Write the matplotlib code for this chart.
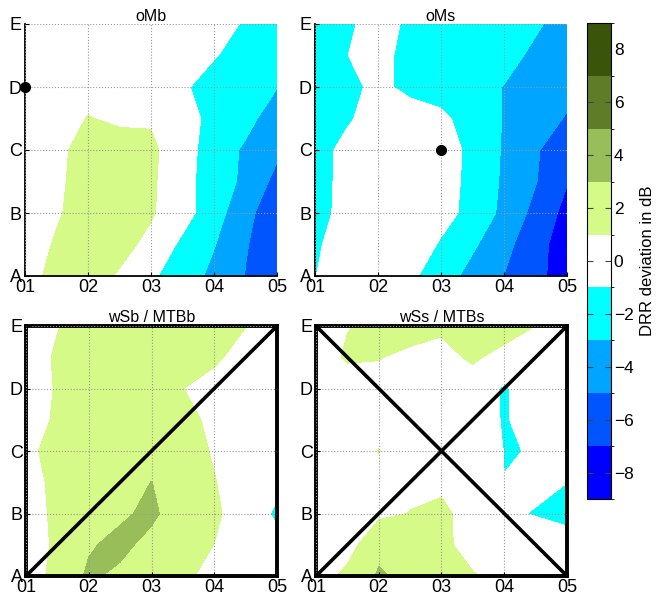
import numpy as np
import matplotlib
matplotlib.use('Agg')
import matplotlib.pyplot as plt
from matplotlib.colors import ListedColormap, BoundaryNorm

plt.rcParams['font.family'] = ['Liberation Sans', 'DejaVu Sans']

# sample grid (half steps between the labelled positions)
grid_pts = np.linspace(0, 4, 9)
x_labels = ['01', '02', '03', '04', '05']
y_labels = ['A', 'B', 'C', 'D', 'E']

levels = [-9, -7, -5, -3, -1, 1, 3, 5, 7, 9]
cbar_ticks = [-8, -6, -4, -2, 0, 2, 4, 6, 8]
band_colors = ['#0000ff', '#0055ff', '#00a5ff', '#00ffff', '#ffffff',
               '#d6fa87', '#98be5a', '#5f7d28', '#3a540a']

# DRR deviation in dB, rows A..E (bottom to top), columns 01..05 in half steps
oMb = [
    [0.0, 1.8, 1.8, 0.8, -0.7, -2.0, -3.5, -5.05, -6.0],
    [0.0, 1.2, 1.8, 1.6, 0.5, -1.4, -2.9, -4.9, -5.9],
    [-0.2, 0.8, 1.8, 1.9, 1.2, -0.2, -2.2, -4.3, -6.6],
    [-0.5, 0.6, 1.9, 2.0, 1.3, -0.3, -2.0, -3.4, -5.6],
    [-0.6, 0.5, 1.8, 1.9, 1.4, -0.2, -1.9, -3.3, -4.6],
    [-0.8, 0.0, 1.09, 0.65, 0.79, -0.3, -1.5, -2.4, -4.0],
    [-0.5, -0.2, 0.2, 0.3, 0.2, -0.8, -1.6, -2.3, -2.95],
    [-0.4, -0.2, 0.1, 0.2, 0.1, -0.3, -0.9, -1.6, -2.2],
    [-0.3, -0.2, 0.0, 0.1, 0.0, -0.2, -0.6, -1.1, -1.7],
]
oMs = [
    [-1.05, 0.2, 0.4, -0.6, -2.0, -3.7, -5.02, -6.5, -7.9],
    [-1.4, 0.3, 0.5, 0.2, -1.2, -2.7, -4.4, -6.3, -8.0],
    [-1.8, -0.3, 0.3, 0.4, -0.3, -1.6, -3.5, -5.6, -7.6],
    [-1.8, -0.4, 0.3, 0.4, -0.2, -1.5, -3.3, -4.9, -6.9],
    [-1.9, -0.4, 0.4, 0.5, 0.0, -1.5, -3.2, -4.8, -6.2],
    [-2.0, -1.3, 0.0, 0.2, -0.6, -1.8, -3.1, -4.4, -5.1],
    [-2.0, -1.7, -0.4, -1.6, -1.8, -2.3, -3.05, -3.9, -4.6],
    [-1.9, -1.05, -0.2, -1.8, -1.7, -2.0, -2.5, -3.3, -4.0],
    [-1.8, -1.3, -0.3, -1.3, -1.6, -1.9, -2.2, -2.8, -3.6],
]
wSb = [
    [0.0, 1.6, 3.3, 2.6, 2.0, 1.5, 0.2, -0.1, -0.3],
    [-0.2, 1.4, 2.8, 3.5, 2.4, 1.8, 0.98, -0.2, -0.5],
    [-0.3, 1.6, 2.2, 2.7, 3.4, 1.8, 1.3, 0.1, -1.3],
    [-0.4, 1.9, 2.2, 2.4, 3.02, 2.2, 1.1, -0.2, -0.5],
    [0.2, 2.2, 2.3, 2.3, 2.2, 2.0, 0.8, -0.1, -0.4],
    [-0.3, 1.4, 2.2, 2.2, 2.0, 1.8, 0.4, -0.1, -0.3],
    [-0.3, 1.2, 2.1, 2.1, 1.9, 1.02, 0.3, 0.0, -0.2],
    [-0.2, 1.3, 2.1, 2.2, 2.1, 1.8, 1.33, 0.2, -0.1],
    [-0.3, 0.9, 1.9, 2.1, 2.0, 1.9, 1.6, 1.05, 0.0],
]
wSs = [
    [0.0, 1.5, 3.2, 2.6, 2.0, 1.1, 0.5, 0.3, 0.2],
    [-0.2, 0.2, 2.53, 2.2, 1.3, 0.5, 0.3, 0.0, 0.5],
    [-0.3, 0.0, 0.62, 1.05, 1.5, 0.03, -0.715, -1.1, -2.0],
    [-0.3, 0.0, 0.4, 0.6, 0.54, 0.1, -0.98, -0.6, -0.98],
    [-0.2, 0.0, 1.05, 0.2, 0.2, 0.5, -1.05, -0.96, -0.3],
    [-0.2, -0.1, 0.3, 0.2, 0.2, 0.3, -1.2, 0.0, 0.1],
    [-0.3, -0.3, 0.2, 0.1, 0.0, 0.0, -1.2, 0.0, 0.0],
    [-0.2, 1.3, 1.1, 0.475, 0.42, 1.3, 0.3, 0.2, 0.1],
    [0.0, 0.9, 1.6, 2.0, 1.3, 1.6, 2.0, 0.98, 0.2],
]

titles = ['oMb', 'oMs', 'wSb / MTBb', 'wSs / MTBs']
fields = [oMb, oMs, wSb, wSs]
dots = [('01', 'D'), ('03', 'C'), None, None]
diagonals = [[], [],
             [(('01', 'A'), ('05', 'E'))],
             [(('01', 'A'), ('05', 'E')), (('01', 'E'), ('05', 'A'))]]
boxed = [False, False, True, True]

W, H = 657, 603
fig = plt.figure(figsize=(W / 100, H / 100), dpi=100)

# axes boxes in pixels: left, top, right, bottom
boxes = [(25, 24, 277, 276), (315, 24, 567, 276),
         (26, 326, 277, 576), (316, 326, 567, 576)]

cmap = ListedColormap(band_colors)
norm = BoundaryNorm(levels, cmap.N)
X, Y = np.meshgrid(grid_pts, grid_pts)

def lab(p):
    return x_labels.index(p[0]), y_labels.index(p[1])

cs = None
for i in range(4):
    l, t, r, b = boxes[i]
    ax = fig.add_axes([l / W, 1 - b / H, (r - l) / W, (b - t) / H])
    cs = ax.contourf(X, Y, np.array(fields[i]), levels=levels, cmap=cmap, norm=norm)
    ax.set_xlim(0, 4)
    ax.set_ylim(0, 4)
    ax.set_xticks(range(5))
    ax.set_xticklabels(x_labels)
    ax.set_yticks(range(5))
    ax.set_yticklabels(y_labels)
    ax.tick_params(direction='in', length=3, labelsize=13)
    ax.tick_params(axis='x', pad=2)
    ax.tick_params(axis='y', pad=2.5)
    ax.set_axisbelow(False)
    ax.grid(True, linestyle=':', color='#999999', linewidth=0.8)
    ax.set_title(titles[i], fontsize=11.5, pad=3 if boxed[i] else 1)

    if boxed[i]:
        for s in ax.spines.values():
            s.set_linewidth(2.8)
            s.set_color('black')
    else:
        ax.spines['top'].set_visible(False)
        ax.spines['right'].set_visible(False)
        ax.spines['left'].set_linewidth(1.3)
        ax.spines['bottom'].set_linewidth(1.3)

    for p0, p1 in diagonals[i]:
        x0, y0 = lab(p0)
        x1, y1 = lab(p1)
        ax.plot([x0, x1], [y0, y1], color='black', lw=2.6, zorder=4)

    if dots[i] is not None:
        dx, dy = lab(dots[i])
        ax.plot(dx, dy, 'o', color='black', ms=7, clip_on=False, zorder=5)

cax = fig.add_axes([587 / W, 1 - 499 / H, 24 / W, 476 / H])
cb = fig.colorbar(cs, cax=cax, ticks=cbar_ticks)
cb.outline.set_linewidth(0.8)
cax.tick_params(direction='in', length=4, left=True, right=True,
                labelsize=12.5, color='#444444', pad=2)
cb.set_label('DRR deviation in dB', fontsize=12, labelpad=5)

fig.savefig('out.png', dpi=100)
